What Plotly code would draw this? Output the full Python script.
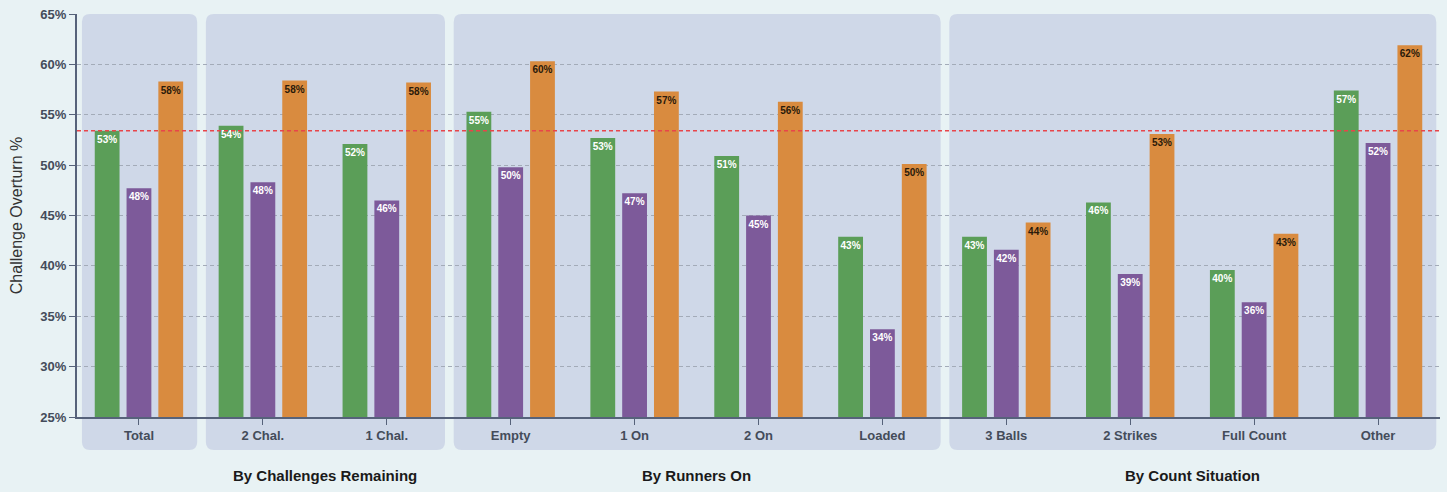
import plotly.graph_objects as go

categories = ["Total", "2 Chal.", "1 Chal.", "Empty", "1 On", "2 On", "Loaded",
              "3 Balls", "2 Strikes", "Full Count", "Other"]
series_a = [53.4, 53.9, 52.1, 55.3, 52.7, 50.9, 42.9, 42.9, 46.3, 39.6, 57.4]
series_b = [47.7, 48.3, 46.5, 49.8, 47.2, 45.0, 33.7, 41.6, 39.2, 36.4, 52.2]
series_c = [58.3, 58.4, 58.2, 60.3, 57.3, 56.3, 50.1, 44.3, 53.1, 43.2, 61.9]
series_names = ["Series A", "Series B", "Series C"]
reference_value = 53.4
groups = [("", 0, 0), ("By Challenges Remaining", 1, 2),
          ("By Runners On", 3, 6), ("By Count Situation", 7, 10)]
group_titles = [("By Challenges Remaining", 1.5), ("By Runners On", 4.5),
                ("By Count Situation", 8.5)]
y_ticks = [25, 30, 35, 40, 45, 50, 55, 60, 65]

colors = ["#5b9e58", "#7d5a9a", "#d98b3f"]
text_colors = ["#ffffff", "#ffffff", "#2a1a0a"]

fig = go.Figure()
for name, vals, col, tcol in zip(series_names, [series_a, series_b, series_c], colors, text_colors):
    fig.add_trace(go.Bar(
        x=categories, y=vals, name=name, marker=dict(color=col, line=dict(width=0)),
        text=[f"{round(v):d}%" for v in vals], textposition="inside",
        insidetextanchor="end", constraintext="none", textangle=0,
        textfont=dict(family="Liberation Sans Narrow, Liberation Sans", size=10,
                      color=tcol, weight="bold"),
        hoverinfo="x+y",
    ))

n = len(categories)
def px(c):
    return (c + 0.5) / n

shapes = []
rx, ry = 8 / 1363, 8 / 407
for _, s, e in groups:
    x0, x1 = px(s - 0.46), px(e + 0.47)
    y0, y1 = -0.082, 1.0
    path = (f"M{x0+rx},{y1} L{x1-rx},{y1} Q{x1},{y1} {x1},{y1-ry} "
            f"L{x1},{y0+ry} Q{x1},{y0} {x1-rx},{y0} L{x0+rx},{y0} "
            f"Q{x0},{y0} {x0},{y0+ry} L{x0},{y1-ry} Q{x0},{y1} {x0+rx},{y1} Z")
    shapes.append(dict(type="path", path=path, xref="paper", yref="paper",
                       fillcolor="#cfd8e8", line=dict(width=0), layer="below"))

shapes.append(dict(type="line", xref="paper", yref="y", x0=0, x1=1,
                   y0=reference_value, y1=reference_value,
                   line=dict(color="#e8454a", width=1.5, dash="4px,3px"), layer="above"))

annotations = [dict(text=f"<b>{t}</b>", x=xc, xref="x", y=-0.145, yref="paper",
                    showarrow=False, yanchor="middle",
                    font=dict(family="Liberation Sans", size=15, color="#1a1a1a"))
               for t, xc in group_titles]

fig.update_layout(
    width=1447, height=492,
    margin=dict(l=77, r=7, t=10, b=75),
    paper_bgcolor="#e8f2f4", plot_bgcolor="rgba(0,0,0,0)",
    barmode="group", bargap=0.23, bargroupgap=0.22,
    showlegend=False, shapes=shapes, annotations=annotations,
    font=dict(family="Liberation Sans"),
)
fig.update_xaxes(
    type="category", range=[-0.5, n - 0.5], showgrid=False,
    showline=True, linecolor="#56627a", linewidth=1.5,
    ticks="outside", ticklen=6, tickcolor="#56627a",
    tickfont=dict(family="Liberation Sans", size=13, color="#444c5a", weight="bold"),
)
fig.update_yaxes(
    range=[25, 65], tickvals=y_ticks, ticktext=[f"{v}%" for v in y_ticks],
    showgrid=True, gridcolor="#a3abb8", griddash="4px,3px", gridwidth=1,
    showline=True, linecolor="#56627a", linewidth=2,
    ticks="outside", ticklen=6, tickcolor="#56627a", zeroline=False,
    tickfont=dict(family="Liberation Sans", size=13, color="#444c5a", weight="bold"),
    title=dict(text="Challenge Overturn %", standoff=14,
               font=dict(family="Liberation Sans", size=16, color="#333333")),
)

fig.write_html("out.html", config={"displayModeBar": False},
               post_script="document.body.style.margin='0';document.body.style.background='#e8f2f4';")
